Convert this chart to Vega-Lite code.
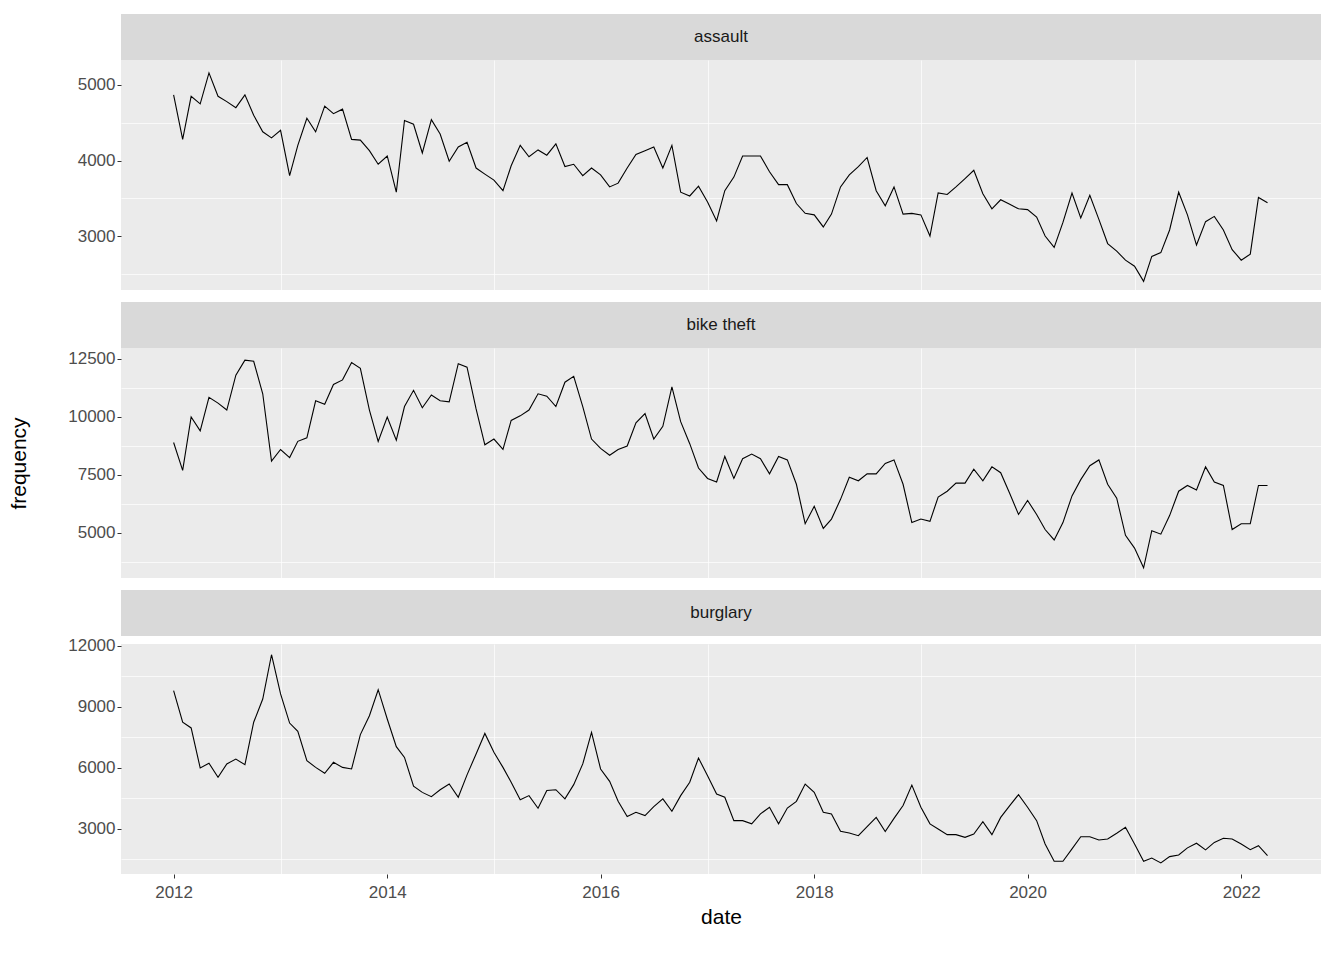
{
  "$schema": "https://vega.github.io/schema/vega-lite/v6.json",
  "background": "white",
  "padding": {"left": 8, "top": 14, "right": 16, "bottom": 10},
  "config": {
    "font": "Liberation Sans",
    "view": {"stroke": null},
    "axis": {
      "domain": false,
      "gridColor": "white",
      "labelColor": "#4D4D4D",
      "labelFontSize": 17,
      "labelFont": "Liberation Sans",
      "tickColor": "#333333",
      "tickSize": 4,
      "titleFontSize": 21,
      "titleFontWeight": "normal",
      "titleColor": "black",
      "titleFont": "Liberation Sans"
    },
    "concat": {"spacing": 12}
  },
  "datasets": {
    "assault": [
      {"date":"2012-01-01","n":4870},{"date":"2012-02-01","n":4280},{"date":"2012-03-01","n":4850},{"date":"2012-04-01","n":4750},{"date":"2012-05-01","n":5160},{"date":"2012-06-01","n":4850},{"date":"2012-07-01","n":4780},{"date":"2012-08-01","n":4700},{"date":"2012-09-01","n":4870},{"date":"2012-10-01","n":4600},{"date":"2012-11-01","n":4380},{"date":"2012-12-01","n":4300},
      {"date":"2013-01-01","n":4400},{"date":"2013-02-01","n":3800},{"date":"2013-03-01","n":4200},{"date":"2013-04-01","n":4560},{"date":"2013-05-01","n":4380},{"date":"2013-06-01","n":4720},{"date":"2013-07-01","n":4620},{"date":"2013-08-01","n":4680},{"date":"2013-09-01","n":4280},{"date":"2013-10-01","n":4270},{"date":"2013-11-01","n":4130},{"date":"2013-12-01","n":3950},
      {"date":"2014-01-01","n":4060},{"date":"2014-02-01","n":3580},{"date":"2014-03-01","n":4530},{"date":"2014-04-01","n":4480},{"date":"2014-05-01","n":4100},{"date":"2014-06-01","n":4540},{"date":"2014-07-01","n":4350},{"date":"2014-08-01","n":3990},{"date":"2014-09-01","n":4180},{"date":"2014-10-01","n":4240},{"date":"2014-11-01","n":3900},{"date":"2014-12-01","n":3820},
      {"date":"2015-01-01","n":3740},{"date":"2015-02-01","n":3600},{"date":"2015-03-01","n":3930},{"date":"2015-04-01","n":4200},{"date":"2015-05-01","n":4050},{"date":"2015-06-01","n":4140},{"date":"2015-07-01","n":4070},{"date":"2015-08-01","n":4220},{"date":"2015-09-01","n":3920},{"date":"2015-10-01","n":3950},{"date":"2015-11-01","n":3800},{"date":"2015-12-01","n":3900},
      {"date":"2016-01-01","n":3810},{"date":"2016-02-01","n":3650},{"date":"2016-03-01","n":3700},{"date":"2016-04-01","n":3900},{"date":"2016-05-01","n":4080},{"date":"2016-06-01","n":4130},{"date":"2016-07-01","n":4180},{"date":"2016-08-01","n":3900},{"date":"2016-09-01","n":4200},{"date":"2016-10-01","n":3580},{"date":"2016-11-01","n":3530},{"date":"2016-12-01","n":3660},
      {"date":"2017-01-01","n":3450},{"date":"2017-02-01","n":3200},{"date":"2017-03-01","n":3600},{"date":"2017-04-01","n":3780},{"date":"2017-05-01","n":4060},{"date":"2017-06-01","n":4060},{"date":"2017-07-01","n":4060},{"date":"2017-08-01","n":3850},{"date":"2017-09-01","n":3680},{"date":"2017-10-01","n":3680},{"date":"2017-11-01","n":3430},{"date":"2017-12-01","n":3300},
      {"date":"2018-01-01","n":3280},{"date":"2018-02-01","n":3120},{"date":"2018-03-01","n":3290},{"date":"2018-04-01","n":3650},{"date":"2018-05-01","n":3810},{"date":"2018-06-01","n":3920},{"date":"2018-07-01","n":4040},{"date":"2018-08-01","n":3600},{"date":"2018-09-01","n":3400},{"date":"2018-10-01","n":3650},{"date":"2018-11-01","n":3290},{"date":"2018-12-01","n":3300},
      {"date":"2019-01-01","n":3280},{"date":"2019-02-01","n":3000},{"date":"2019-03-01","n":3570},{"date":"2019-04-01","n":3550},{"date":"2019-05-01","n":3650},{"date":"2019-06-01","n":3760},{"date":"2019-07-01","n":3870},{"date":"2019-08-01","n":3560},{"date":"2019-09-01","n":3360},{"date":"2019-10-01","n":3480},{"date":"2019-11-01","n":3420},{"date":"2019-12-01","n":3360},
      {"date":"2020-01-01","n":3350},{"date":"2020-02-01","n":3250},{"date":"2020-03-01","n":3000},{"date":"2020-04-01","n":2850},{"date":"2020-05-01","n":3180},{"date":"2020-06-01","n":3570},{"date":"2020-07-01","n":3240},{"date":"2020-08-01","n":3540},{"date":"2020-09-01","n":3220},{"date":"2020-10-01","n":2900},{"date":"2020-11-01","n":2800},{"date":"2020-12-01","n":2680},
      {"date":"2021-01-01","n":2600},{"date":"2021-02-01","n":2400},{"date":"2021-03-01","n":2730},{"date":"2021-04-01","n":2780},{"date":"2021-05-01","n":3080},{"date":"2021-06-01","n":3580},{"date":"2021-07-01","n":3280},{"date":"2021-08-01","n":2880},{"date":"2021-09-01","n":3190},{"date":"2021-10-01","n":3260},{"date":"2021-11-01","n":3080},{"date":"2021-12-01","n":2820},
      {"date":"2022-01-01","n":2680},{"date":"2022-02-01","n":2760},{"date":"2022-03-01","n":3510},{"date":"2022-04-01","n":3440}
    ],
    "bike": [
      {"date":"2012-01-01","n":8900},{"date":"2012-02-01","n":7700},{"date":"2012-03-01","n":10000},{"date":"2012-04-01","n":9400},{"date":"2012-05-01","n":10850},{"date":"2012-06-01","n":10600},{"date":"2012-07-01","n":10300},{"date":"2012-08-01","n":11800},{"date":"2012-09-01","n":12450},{"date":"2012-10-01","n":12400},{"date":"2012-11-01","n":11000},{"date":"2012-12-01","n":8100},
      {"date":"2013-01-01","n":8600},{"date":"2013-02-01","n":8250},{"date":"2013-03-01","n":8950},{"date":"2013-04-01","n":9100},{"date":"2013-05-01","n":10700},{"date":"2013-06-01","n":10550},{"date":"2013-07-01","n":11400},{"date":"2013-08-01","n":11600},{"date":"2013-09-01","n":12350},{"date":"2013-10-01","n":12100},{"date":"2013-11-01","n":10300},{"date":"2013-12-01","n":8950},
      {"date":"2014-01-01","n":10000},{"date":"2014-02-01","n":9000},{"date":"2014-03-01","n":10450},{"date":"2014-04-01","n":11150},{"date":"2014-05-01","n":10400},{"date":"2014-06-01","n":10950},{"date":"2014-07-01","n":10700},{"date":"2014-08-01","n":10650},{"date":"2014-09-01","n":12300},{"date":"2014-10-01","n":12150},{"date":"2014-11-01","n":10350},{"date":"2014-12-01","n":8800},
      {"date":"2015-01-01","n":9050},{"date":"2015-02-01","n":8600},{"date":"2015-03-01","n":9850},{"date":"2015-04-01","n":10050},{"date":"2015-05-01","n":10300},{"date":"2015-06-01","n":11000},{"date":"2015-07-01","n":10900},{"date":"2015-08-01","n":10450},{"date":"2015-09-01","n":11500},{"date":"2015-10-01","n":11750},{"date":"2015-11-01","n":10450},{"date":"2015-12-01","n":9050},
      {"date":"2016-01-01","n":8650},{"date":"2016-02-01","n":8350},{"date":"2016-03-01","n":8600},{"date":"2016-04-01","n":8750},{"date":"2016-05-01","n":9750},{"date":"2016-06-01","n":10150},{"date":"2016-07-01","n":9050},{"date":"2016-08-01","n":9600},{"date":"2016-09-01","n":11300},{"date":"2016-10-01","n":9800},{"date":"2016-11-01","n":8850},{"date":"2016-12-01","n":7800},
      {"date":"2017-01-01","n":7350},{"date":"2017-02-01","n":7200},{"date":"2017-03-01","n":8300},{"date":"2017-04-01","n":7350},{"date":"2017-05-01","n":8200},{"date":"2017-06-01","n":8400},{"date":"2017-07-01","n":8200},{"date":"2017-08-01","n":7550},{"date":"2017-09-01","n":8300},{"date":"2017-10-01","n":8150},{"date":"2017-11-01","n":7100},{"date":"2017-12-01","n":5400},
      {"date":"2018-01-01","n":6150},{"date":"2018-02-01","n":5200},{"date":"2018-03-01","n":5600},{"date":"2018-04-01","n":6450},{"date":"2018-05-01","n":7400},{"date":"2018-06-01","n":7250},{"date":"2018-07-01","n":7550},{"date":"2018-08-01","n":7550},{"date":"2018-09-01","n":8000},{"date":"2018-10-01","n":8150},{"date":"2018-11-01","n":7100},{"date":"2018-12-01","n":5450},
      {"date":"2019-01-01","n":5600},{"date":"2019-02-01","n":5500},{"date":"2019-03-01","n":6550},{"date":"2019-04-01","n":6800},{"date":"2019-05-01","n":7150},{"date":"2019-06-01","n":7150},{"date":"2019-07-01","n":7750},{"date":"2019-08-01","n":7250},{"date":"2019-09-01","n":7850},{"date":"2019-10-01","n":7600},{"date":"2019-11-01","n":6700},{"date":"2019-12-01","n":5800},
      {"date":"2020-01-01","n":6400},{"date":"2020-02-01","n":5800},{"date":"2020-03-01","n":5150},{"date":"2020-04-01","n":4700},{"date":"2020-05-01","n":5450},{"date":"2020-06-01","n":6600},{"date":"2020-07-01","n":7300},{"date":"2020-08-01","n":7900},{"date":"2020-09-01","n":8150},{"date":"2020-10-01","n":7100},{"date":"2020-11-01","n":6500},{"date":"2020-12-01","n":4900},
      {"date":"2021-01-01","n":4350},{"date":"2021-02-01","n":3500},{"date":"2021-03-01","n":5100},{"date":"2021-04-01","n":4950},{"date":"2021-05-01","n":5750},{"date":"2021-06-01","n":6800},{"date":"2021-07-01","n":7050},{"date":"2021-08-01","n":6850},{"date":"2021-09-01","n":7850},{"date":"2021-10-01","n":7200},{"date":"2021-11-01","n":7050},{"date":"2021-12-01","n":5150},
      {"date":"2022-01-01","n":5400},{"date":"2022-02-01","n":5400},{"date":"2022-03-01","n":7050},{"date":"2022-04-01","n":7050}
    ],
    "burglary": [
      {"date":"2012-01-01","n":9800},{"date":"2012-02-01","n":8250},{"date":"2012-03-01","n":7970},{"date":"2012-04-01","n":6000},{"date":"2012-05-01","n":6230},{"date":"2012-06-01","n":5540},{"date":"2012-07-01","n":6200},{"date":"2012-08-01","n":6440},{"date":"2012-09-01","n":6160},{"date":"2012-10-01","n":8250},{"date":"2012-11-01","n":9390},{"date":"2012-12-01","n":11570},
      {"date":"2013-01-01","n":9640},{"date":"2013-02-01","n":8210},{"date":"2013-03-01","n":7800},{"date":"2013-04-01","n":6360},{"date":"2013-05-01","n":6030},{"date":"2013-06-01","n":5740},{"date":"2013-07-01","n":6280},{"date":"2013-08-01","n":6030},{"date":"2013-09-01","n":5950},{"date":"2013-10-01","n":7640},{"date":"2013-11-01","n":8570},{"date":"2013-12-01","n":9850},
      {"date":"2014-01-01","n":8410},{"date":"2014-02-01","n":7050},{"date":"2014-03-01","n":6520},{"date":"2014-04-01","n":5100},{"date":"2014-05-01","n":4800},{"date":"2014-06-01","n":4590},{"date":"2014-07-01","n":4930},{"date":"2014-08-01","n":5210},{"date":"2014-09-01","n":4560},{"date":"2014-10-01","n":5660},{"date":"2014-11-01","n":6690},{"date":"2014-12-01","n":7700},
      {"date":"2015-01-01","n":6770},{"date":"2015-02-01","n":6030},{"date":"2015-03-01","n":5300},{"date":"2015-04-01","n":4440},{"date":"2015-05-01","n":4640},{"date":"2015-06-01","n":4020},{"date":"2015-07-01","n":4890},{"date":"2015-08-01","n":4930},{"date":"2015-09-01","n":4480},{"date":"2015-10-01","n":5180},{"date":"2015-11-01","n":6200},{"date":"2015-12-01","n":7750},
      {"date":"2016-01-01","n":5950},{"date":"2016-02-01","n":5340},{"date":"2016-03-01","n":4360},{"date":"2016-04-01","n":3610},{"date":"2016-05-01","n":3820},{"date":"2016-06-01","n":3660},{"date":"2016-07-01","n":4100},{"date":"2016-08-01","n":4480},{"date":"2016-09-01","n":3870},{"date":"2016-10-01","n":4640},{"date":"2016-11-01","n":5300},{"date":"2016-12-01","n":6490},
      {"date":"2017-01-01","n":5620},{"date":"2017-02-01","n":4720},{"date":"2017-03-01","n":4560},{"date":"2017-04-01","n":3410},{"date":"2017-05-01","n":3410},{"date":"2017-06-01","n":3250},{"date":"2017-07-01","n":3740},{"date":"2017-08-01","n":4070},{"date":"2017-09-01","n":3250},{"date":"2017-10-01","n":4030},{"date":"2017-11-01","n":4360},{"date":"2017-12-01","n":5210},
      {"date":"2018-01-01","n":4800},{"date":"2018-02-01","n":3820},{"date":"2018-03-01","n":3740},{"date":"2018-04-01","n":2890},{"date":"2018-05-01","n":2800},{"date":"2018-06-01","n":2670},{"date":"2018-07-01","n":3110},{"date":"2018-08-01","n":3570},{"date":"2018-09-01","n":2870},{"date":"2018-10-01","n":3520},{"date":"2018-11-01","n":4150},{"date":"2018-12-01","n":5160},
      {"date":"2019-01-01","n":4070},{"date":"2019-02-01","n":3250},{"date":"2019-03-01","n":3000},{"date":"2019-04-01","n":2720},{"date":"2019-05-01","n":2720},{"date":"2019-06-01","n":2590},{"date":"2019-07-01","n":2750},{"date":"2019-08-01","n":3360},{"date":"2019-09-01","n":2720},{"date":"2019-10-01","n":3570},{"date":"2019-11-01","n":4150},{"date":"2019-12-01","n":4690},
      {"date":"2020-01-01","n":4070},{"date":"2020-02-01","n":3410},{"date":"2020-03-01","n":2260},{"date":"2020-04-01","n":1410},{"date":"2020-05-01","n":1410},{"date":"2020-06-01","n":2020},{"date":"2020-07-01","n":2620},{"date":"2020-08-01","n":2620},{"date":"2020-09-01","n":2460},{"date":"2020-10-01","n":2510},{"date":"2020-11-01","n":2790},{"date":"2020-12-01","n":3080},
      {"date":"2021-01-01","n":2260},{"date":"2021-02-01","n":1410},{"date":"2021-03-01","n":1570},{"date":"2021-04-01","n":1330},{"date":"2021-05-01","n":1640},{"date":"2021-06-01","n":1720},{"date":"2021-07-01","n":2070},{"date":"2021-08-01","n":2300},{"date":"2021-09-01","n":1970},{"date":"2021-10-01","n":2340},{"date":"2021-11-01","n":2540},{"date":"2021-12-01","n":2510},
      {"date":"2022-01-01","n":2260},{"date":"2022-02-01","n":1980},{"date":"2022-03-01","n":2180},{"date":"2022-04-01","n":1690}
    ]
  },
  "vconcat": [
    {
      "spacing": 0,
      "vconcat": [
        {
          "width": 1200, "height": 46,
          "view": {"fill": "#D9D9D9", "stroke": null},
          "data": {"values": [{"t": "assault"}]},
          "mark": {"type": "text", "fontSize": 17, "color": "#1A1A1A"},
          "encoding": {"text": {"field": "t"}}
        },
        {
          "width": 1200, "height": 230,
          "view": {"fill": "#EBEBEB", "stroke": null},
          "data": {"name": "assault"},
          "layer": [
            {
              "mark": {"type": "line", "opacity": 0},
              "encoding": {
                "x": {"field": "date", "type": "temporal", "scale": {"type": "utc", "domain": [{"year": 2011, "month": 7, "date": 5, "utc": true}, {"year": 2022, "month": 10, "date": 1, "utc": true}]},
                  "axis": {"orient": "bottom", "values": [{"year": 2013, "utc": true}, {"year": 2015, "utc": true}, {"year": 2017, "utc": true}, {"year": 2019, "utc": true}, {"year": 2021, "utc": true}], "labels": false, "ticks": false, "title": null, "gridWidth": 0.7}},
                "y": {"field": "n", "type": "quantitative", "scale": {"domain": [2285, 5331], "nice": false, "zero": false},
                  "axis": {"orient": "left", "values": [2500, 3500, 4500], "labels": false, "ticks": false, "title": null, "gridWidth": 0.7}}
              }
            },
            {
              "mark": {"type": "line", "color": "black", "strokeWidth": 1.1},
              "encoding": {
                "x": {"field": "date", "type": "temporal",
                  "axis": {"orient": "bottom", "values": [{"year": 2012, "utc": true}, {"year": 2014, "utc": true}, {"year": 2016, "utc": true}, {"year": 2018, "utc": true}, {"year": 2020, "utc": true}, {"year": 2022, "utc": true}], "labels": false, "ticks": false, "title": null, "gridWidth": 1.4}},
                "y": {"field": "n", "type": "quantitative",
                  "axis": {"orient": "left", "values": [3000, 4000, 5000], "format": "d", "title": null, "gridWidth": 1.4, "minExtent": 80}}
              }
            }
          ],
          "resolve": {"axis": {"x": "independent", "y": "independent"}}
        }
      ]
    },
    {
      "spacing": 0,
      "vconcat": [
        {
          "width": 1200, "height": 46,
          "view": {"fill": "#D9D9D9", "stroke": null},
          "data": {"values": [{"t": "bike theft"}]},
          "mark": {"type": "text", "fontSize": 17, "color": "#1A1A1A"},
          "encoding": {"text": {"field": "t"}}
        },
        {
          "width": 1200, "height": 230,
          "view": {"fill": "#EBEBEB", "stroke": null},
          "data": {"name": "bike"},
          "layer": [
            {
              "mark": {"type": "line", "opacity": 0},
              "encoding": {
                "x": {"field": "date", "type": "temporal", "scale": {"type": "utc", "domain": [{"year": 2011, "month": 7, "date": 5, "utc": true}, {"year": 2022, "month": 10, "date": 1, "utc": true}]},
                  "axis": {"orient": "bottom", "values": [{"year": 2013, "utc": true}, {"year": 2015, "utc": true}, {"year": 2017, "utc": true}, {"year": 2019, "utc": true}, {"year": 2021, "utc": true}], "labels": false, "ticks": false, "title": null, "gridWidth": 0.7}},
                "y": {"field": "n", "type": "quantitative", "scale": {"domain": [3060, 12974], "nice": false, "zero": false},
                  "axis": {"orient": "left", "values": [3750, 6250, 8750, 11250], "labels": false, "ticks": false, "title": null, "gridWidth": 0.7}}
              }
            },
            {
              "mark": {"type": "line", "color": "black", "strokeWidth": 1.1},
              "encoding": {
                "x": {"field": "date", "type": "temporal",
                  "axis": {"orient": "bottom", "values": [{"year": 2012, "utc": true}, {"year": 2014, "utc": true}, {"year": 2016, "utc": true}, {"year": 2018, "utc": true}, {"year": 2020, "utc": true}, {"year": 2022, "utc": true}], "labels": false, "ticks": false, "title": null, "gridWidth": 1.4}},
                "y": {"field": "n", "type": "quantitative",
                  "axis": {"orient": "left", "values": [5000, 7500, 10000, 12500], "format": "d", "title": "frequency", "titlePadding": 12, "gridWidth": 1.4, "minExtent": 80}}
              }
            }
          ],
          "resolve": {"axis": {"x": "independent", "y": "independent"}}
        }
      ]
    },
    {
      "spacing": 0,
      "vconcat": [
        {
          "width": 1200, "height": 46,
          "view": {"fill": "#D9D9D9", "stroke": null},
          "data": {"values": [{"t": "burglary"}]},
          "mark": {"type": "text", "fontSize": 17, "color": "#1A1A1A"},
          "encoding": {"text": {"field": "t"}}
        },
        {
          "width": 1200, "height": 230,
          "view": {"fill": "#EBEBEB", "stroke": null},
          "data": {"name": "burglary"},
          "layer": [
            {
              "mark": {"type": "line", "opacity": 0},
              "encoding": {
                "x": {"field": "date", "type": "temporal", "scale": {"type": "utc", "domain": [{"year": 2011, "month": 7, "date": 5, "utc": true}, {"year": 2022, "month": 10, "date": 1, "utc": true}]},
                  "axis": {"orient": "bottom", "values": [{"year": 2013, "utc": true}, {"year": 2015, "utc": true}, {"year": 2017, "utc": true}, {"year": 2019, "utc": true}, {"year": 2021, "utc": true}], "labels": false, "ticks": false, "title": null, "gridWidth": 0.7}},
                "y": {"field": "n", "type": "quantitative", "scale": {"domain": [785, 12098], "nice": false, "zero": false},
                  "axis": {"orient": "left", "values": [1500, 4500, 7500, 10500], "labels": false, "ticks": false, "title": null, "gridWidth": 0.7}}
              }
            },
            {
              "mark": {"type": "line", "color": "black", "strokeWidth": 1.1},
              "encoding": {
                "x": {"field": "date", "type": "temporal",
                  "axis": {"orient": "bottom", "values": [{"year": 2012, "utc": true}, {"year": 2014, "utc": true}, {"year": 2016, "utc": true}, {"year": 2018, "utc": true}, {"year": 2020, "utc": true}, {"year": 2022, "utc": true}], "format": "%Y", "title": "date", "titlePadding": 6, "labelPadding": 6, "gridWidth": 1.4}},
                "y": {"field": "n", "type": "quantitative",
                  "axis": {"orient": "left", "values": [3000, 6000, 9000, 12000], "format": "d", "title": null, "gridWidth": 1.4, "minExtent": 80}}
              }
            }
          ],
          "resolve": {"axis": {"x": "independent", "y": "independent"}}
        }
      ]
    }
  ]
}
